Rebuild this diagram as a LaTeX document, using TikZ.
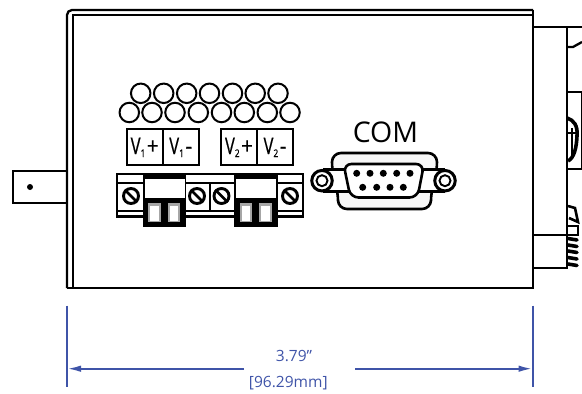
\documentclass[tikz,border=0pt]{standalone}
\usepackage{fontspec}
\setmainfont{Open Sans}
\newfontfamily\heavier[FakeBold=0.5]{Open Sans}
\usetikzlibrary{arrows.meta}
\definecolor{dimblue}{HTML}{3F54A8}
\tikzset{
  ln/.style={draw=black,line width=2.3pt},
  midln/.style={draw=black,line width=1.6pt},
  thinln/.style={draw=black,line width=1.1pt},
  hole/.style={circle,draw=black,line width=2pt,minimum size=19.5pt,inner sep=0pt,fill=white},
  vbox/.style={draw=black,line width=2pt,fill=white,minimum width=36pt,minimum height=36pt,inner sep=0pt,font=\heavier\fontsize{23}{23}\selectfont},
  pin/.style={circle,fill=black,minimum size=7pt,inner sep=0pt},
  screwhead/.style={circle,draw=black,line width=2.9pt,minimum size=15pt,inner sep=0pt,fill=white},
  ear/.style={circle,draw=black,line width=3pt,fill=white,minimum size=20.5pt,inner sep=0pt},
  earin/.style={circle,draw=black,line width=1.9pt,minimum size=11pt,inner sep=0pt},
  dimline/.style={draw=dimblue,line width=2pt},
  dimarrow/.style={-{Latex[length=14pt,width=6.5pt]}},
  dimtext/.style={text=dimblue,font=\fontsize{15.5}{15.5}\selectfont,inner sep=0pt},
}
\newcommand{\vlab}[2]{\scalebox{0.72}[1]{V}\raisebox{-3pt}{\scalebox{0.8}[1]{\fontsize{10.5}{10.5}\selectfont #1}}\hspace{1.5pt}\scalebox{0.9}[1]{#2}}
\newcommand{\termblock}[1]{%
  \begin{scope}[xshift=#1 pt]
    \fill[black] (142.5,174) rectangle (186,226.7);
    \fill[white] (144.5,179) rectangle (184.5,197.5);
    \fill[gray!70] (148,203) rectangle (160.5,221.5);
    \fill[gray!70] (167.5,203) rectangle (180,221.5);
    \fill[white] (150,205.5) rectangle (158.5,220.5);
    \fill[white] (169.5,205.5) rectangle (178,220.5);
  \end{scope}}
\newcommand{\screw}[2]{%
  \node[screwhead] (s#1) at (#2,196) {};
  \draw[line width=2.6pt] (s#1.north west) -- (s#1.south east);}
\begin{document}
\begin{tikzpicture}[x=1pt,y=-1pt]
\useasboundingbox (0,0) rectangle (582,394);
% housing
\draw[ln,rounded corners=5pt] (67,288) -- (67,10) -- (533,10);
\draw[ln] (67,288) -- (533,288) -- (533,10);
\draw[ln] (73,288) -- (73,15) -- (533,15);
% tab
\draw[ln] (67,171) -- (13,171) -- (13,203) -- (67,203);
\node[circle,fill=black,minimum size=6pt,inner sep=0pt] (tabdot) at (30,187) {};
% right side
\draw[ln] (533,27) -- (582,27);
\draw[ln] (567,27) -- (567,268) -- (533,268);
\draw[ln] (533,235) -- (567,235);
\draw[ln] (567,47) -- (573,47) -- (582,42);
\draw[ln] (567,92) -- (582,92);
\draw[ln] (567,169) -- (582,169);
\draw[thinln] (581.5,92) -- (581.5,169);
% right knob
\draw[draw=black,line width=3.6pt] (567,118) .. controls (574,120) and (578,126) .. (577,136) .. controls (576.5,148) and (574,158) .. (568,161);
\draw[thinln] (572,128) -- (572,158);
\draw[thinln] (567,133) -- (577,133);
% right latch and spring
\draw[draw=black,line width=2.6pt] (568,206) -- (575,208) -- (578,222) -- (569,218);
\draw[line width=2pt] (568,226) -- (578,226) -- (578,235) -- (568,235);
\foreach \yy in {238.5,245,251,257.5,264}
  \draw[line width=3.6pt,line cap=round] (568,\yy) -- (577,\yy+1.5);
% holes
\foreach \xx [count=\i] in {140.7,163.7,186.7,209.5,232.5,255.2,278}
  \node[hole] (ht\i) at (\xx,93.3) {};
\foreach \xx [count=\i] in {129.3,152,175,198.3,221.5,244.3,267.3,290}
  \node[hole] (hb\i) at (\xx,112.5) {};
% voltage labels
\node[vbox] (v1p) at (144.7,147.3) {\vlab{1}{+}};
\node[vbox] (v1m) at (180.7,147.3) {\vlab{1}{-}};
\node[vbox] (v2p) at (239,147.3) {\vlab{2}{+}};
\node[vbox] (v2m) at (275,147.3) {\vlab{2}{-}};
% terminal strip
\draw[ln,fill=white] (117,174) rectangle (302.7,216.5);
\draw[midln] (117,183) -- (302.7,183);
\draw[midln] (117,211) -- (302.7,211);
\draw[midln] (210,183) -- (210,211);
\termblock{0}
\termblock{91.5}
\screw{a}{131}
\screw{b}{197}
\screw{c}{221.5}
\screw{d}{290}
% COM
\node[inner sep=0pt,font=\fontsize{28.5}{28.5}\selectfont] (com) at (385.5,132) {COM};
% DB9
\draw[draw=black,line width=2.6pt,fill=black!3,rounded corners=9pt] (332,171) -- (332,153) -- (437,153) -- (437,171) -- (431,192) -- (431,209) -- (338,209) -- (338,192) -- cycle;
\fill[white] (323,169) -- (346,169) -- (350,192) -- (323,192) -- cycle;
\fill[white] (445,169) -- (422,169) -- (418,192) -- (445,192) -- cycle;
\draw[ln] (323,169.5) -- (345,169.5);
\draw[ln] (323,191.5) -- (349,191.5);
\draw[ln] (445,169.5) -- (423,169.5);
\draw[ln] (445,191.5) -- (419,191.5);
\node[ear] (earl) at (322,180.7) {};
\node[ear] (earr) at (445,180.7) {};
\node[earin] (earli) at (322,180.7) {};
\node[earin] (earri) at (445,180.7) {};
\draw[draw=black,line width=2.6pt,fill=white,rounded corners=8pt] (343.5,164) -- (424,164) -- (417.5,197.5) -- (350.5,197.5) -- cycle;
\foreach \xx [count=\i] in {356.7,370,383.3,396.7,410}
  \node[pin] (pt\i) at (\xx,173.3) {};
\foreach \xx [count=\i] in {362.7,376.7,390,403.3}
  \node[pin] (pb\i) at (\xx,187.3) {};
% dimension
\coordinate (dl) at (67,368.7);
\coordinate (dr) at (532.5,368.7);
\coordinate (dlt) at (244,368.7);
\coordinate (drt) at (355,368.7);
\draw[dimline] (66.7,305.7) -- (66.7,387.3);
\draw[dimline] (532.5,305.7) -- (532.5,387.3);
\draw[dimline,dimarrow] (dlt) -- (dl);
\draw[dimline,dimarrow] (drt) -- (dr);
\node[dimtext] (d1) at (294,355.7) {3.79\char34};
\node[dimtext] (d2) at (288.3,383) {[96.29mm]};
\end{tikzpicture}
\end{document}
